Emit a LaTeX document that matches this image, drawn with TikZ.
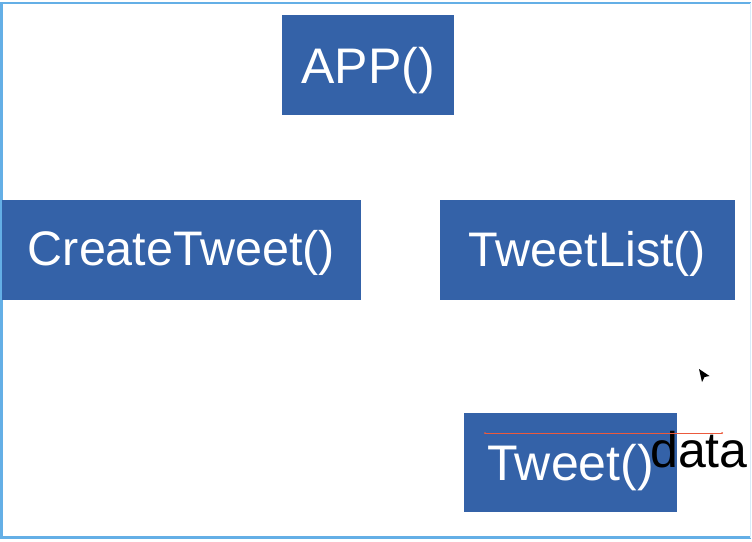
\documentclass[tikz,border=0pt]{standalone}
\usepackage{fontspec}
\setmainfont{Liberation Sans}
\definecolor{boxblue}{RGB}{52,98,168}
\definecolor{frameblue}{RGB}{100,175,230}
\definecolor{selred}{RGB}{235,90,60}
\tikzset{
  fnbox/.style={fill=boxblue, text=white, inner sep=0pt, text depth=0pt},
  bigfont/.style={font=\fontsize{50}{60}\selectfont},
  midfont/.style={font=\fontsize{48.5}{58}\selectfont},
}
\begin{document}
\begin{tikzpicture}[x=1pt,y=-1pt]
\useasboundingbox (0,0) rectangle (752,541);
\fill[white] (0,0) rectangle (752,541);
\draw[frameblue, line width=2.6pt] (751,3) -- (1.5,3) -- (1.5,537.5) -- (751,537.5);
\draw[frameblue!25, line width=1pt] (750,3) -- (750,537.5);

\node[fnbox, bigfont, minimum width=172pt, minimum height=100pt, text height=37.6pt] (app) at (368,65) {APP()};
\node[fnbox, midfont, minimum width=359pt, minimum height=100pt, text height=31.6pt] (create) at (181.5,250) {CreateTweet()};
\node[fnbox, midfont, minimum width=295pt, minimum height=100pt, text height=32pt] (list) at (587.5,250) {TweetList()};
\node[fnbox, bigfont, minimum width=213pt, minimum height=99pt, text height=36pt] (tweet) at (570.5,462) {Tweet()};
\node[bigfont, anchor=base west, inner sep=0pt, text=black] (data) at (650,467) {data};

\coordinate (selA) at (485,433);
\coordinate (selB) at (722,433);
\draw[selred, line width=0.7pt] (selA) -- (selB);
\fill[selred] (selA) circle (1pt) (selB) circle (1pt);

\fill[black] (699,369) -- (709.5,376) -- (704.5,377) -- (702,382) -- cycle;
\end{tikzpicture}
\end{document}
